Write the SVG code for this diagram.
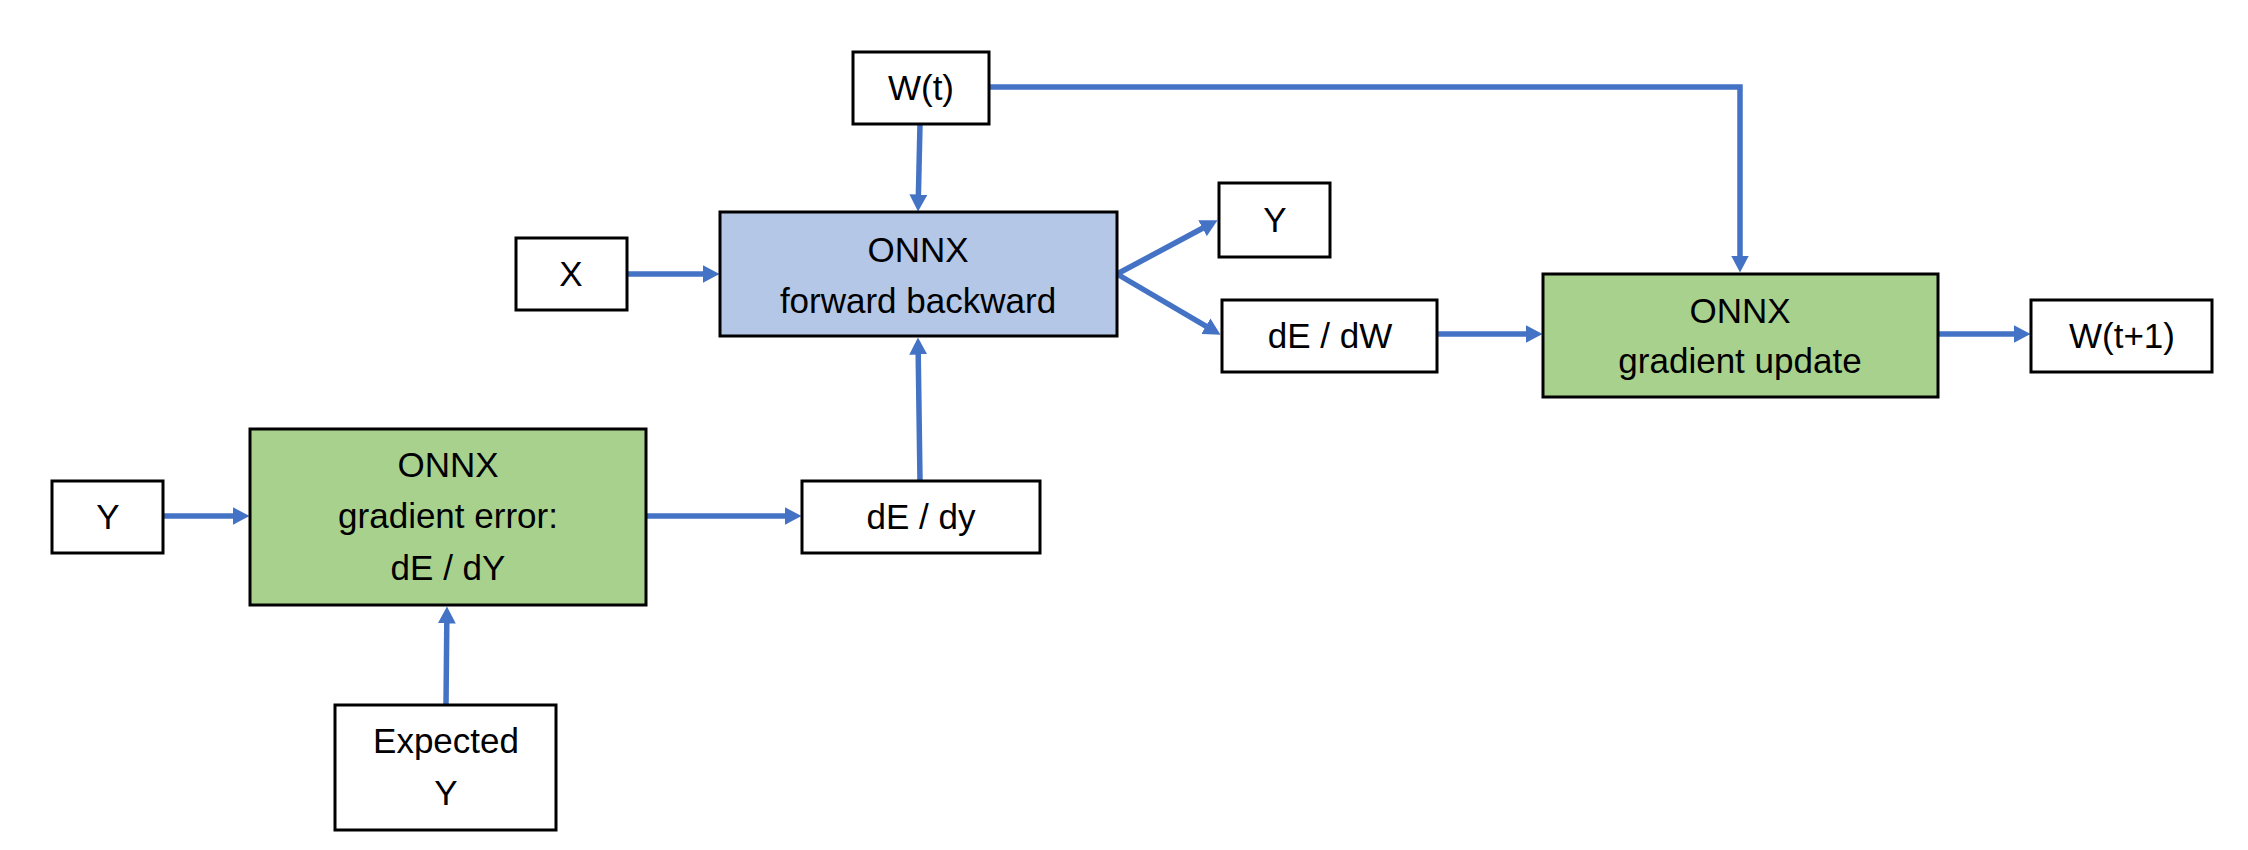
<svg xmlns="http://www.w3.org/2000/svg" width="2248" height="850" viewBox="0 0 2248 850">
<style>
.box{fill:#ffffff;stroke:#000000;stroke-width:3}
.blue{fill:#B4C7E7;stroke:#000000;stroke-width:3}
.green{fill:#A9D18E;stroke:#000000;stroke-width:3}
.t{font-family:"Liberation Sans",Arial,sans-serif;font-size:35px;fill:#000000;text-anchor:middle}
.c{fill:none;stroke:#4472C4;stroke-width:5.5;marker-end:url(#ah)}
</style>
<defs>
<marker id="ah" markerUnits="userSpaceOnUse" markerWidth="18" markerHeight="18" refX="0.5" refY="9" orient="auto">
<path d="M0,0 L17,9 L0,18 z" fill="#4472C4"/>
</marker>
</defs>
<rect width="2248" height="850" fill="#ffffff"/>
<g id="connectors">
<line class="c" x1="920" y1="124" x2="918.4" y2="195"/>
<line class="c" x1="627" y1="274" x2="703" y2="274"/>
<polyline class="c" points="989,87 1740,87 1740,256"/>
<line class="c" x1="1117" y1="274" x2="1203" y2="228"/>
<line class="c" x1="1117" y1="274" x2="1206.3" y2="326.4"/>
<line class="c" x1="1437" y1="334" x2="1526" y2="334"/>
<line class="c" x1="1938" y1="334" x2="2014" y2="334"/>
<line class="c" x1="163" y1="516" x2="233" y2="516"/>
<line class="c" x1="646" y1="516" x2="785" y2="516"/>
<line class="c" x1="920" y1="481" x2="918.2" y2="354"/>
<line class="c" x1="446" y1="705" x2="446.8" y2="623"/>
</g>
<g id="wt"><rect class="box" x="853" y="52" width="136" height="72"/><text class="t" x="921" y="100">W(t)</text></g>
<g id="x"><rect class="box" x="516" y="238" width="111" height="72"/><text class="t" x="571" y="286">X</text></g>
<g id="fwdbwd"><rect class="blue" x="720" y="212" width="397" height="124"/><text class="t" x="918" y="262">ONNX</text><text class="t" x="918" y="313">forward backward</text></g>
<g id="yout"><rect class="box" x="1219" y="183" width="111" height="74"/><text class="t" x="1275" y="232">Y</text></g>
<g id="dedw"><rect class="box" x="1222" y="300" width="215" height="72"/><text class="t" x="1330" y="348">dE / dW</text></g>
<g id="update"><rect class="green" x="1543" y="274" width="395" height="123"/><text class="t" x="1740" y="323">ONNX</text><text class="t" x="1740" y="373">gradient update</text></g>
<g id="wt1"><rect class="box" x="2031" y="300" width="181" height="72"/><text class="t" x="2122" y="348">W(t+1)</text></g>
<g id="yin"><rect class="box" x="52" y="481" width="111" height="72"/><text class="t" x="108" y="529">Y</text></g>
<g id="error"><rect class="green" x="250" y="429" width="396" height="176"/><text class="t" x="448" y="477">ONNX</text><text class="t" x="448" y="528">gradient error:</text><text class="t" x="448" y="580">dE / dY</text></g>
<g id="dedy"><rect class="box" x="802" y="481" width="238" height="72"/><text class="t" x="921" y="529">dE / dy</text></g>
<g id="expected"><rect class="box" x="335" y="705" width="221" height="125"/><text class="t" x="446" y="753">Expected</text><text class="t" x="446" y="805">Y</text></g>
</svg>
